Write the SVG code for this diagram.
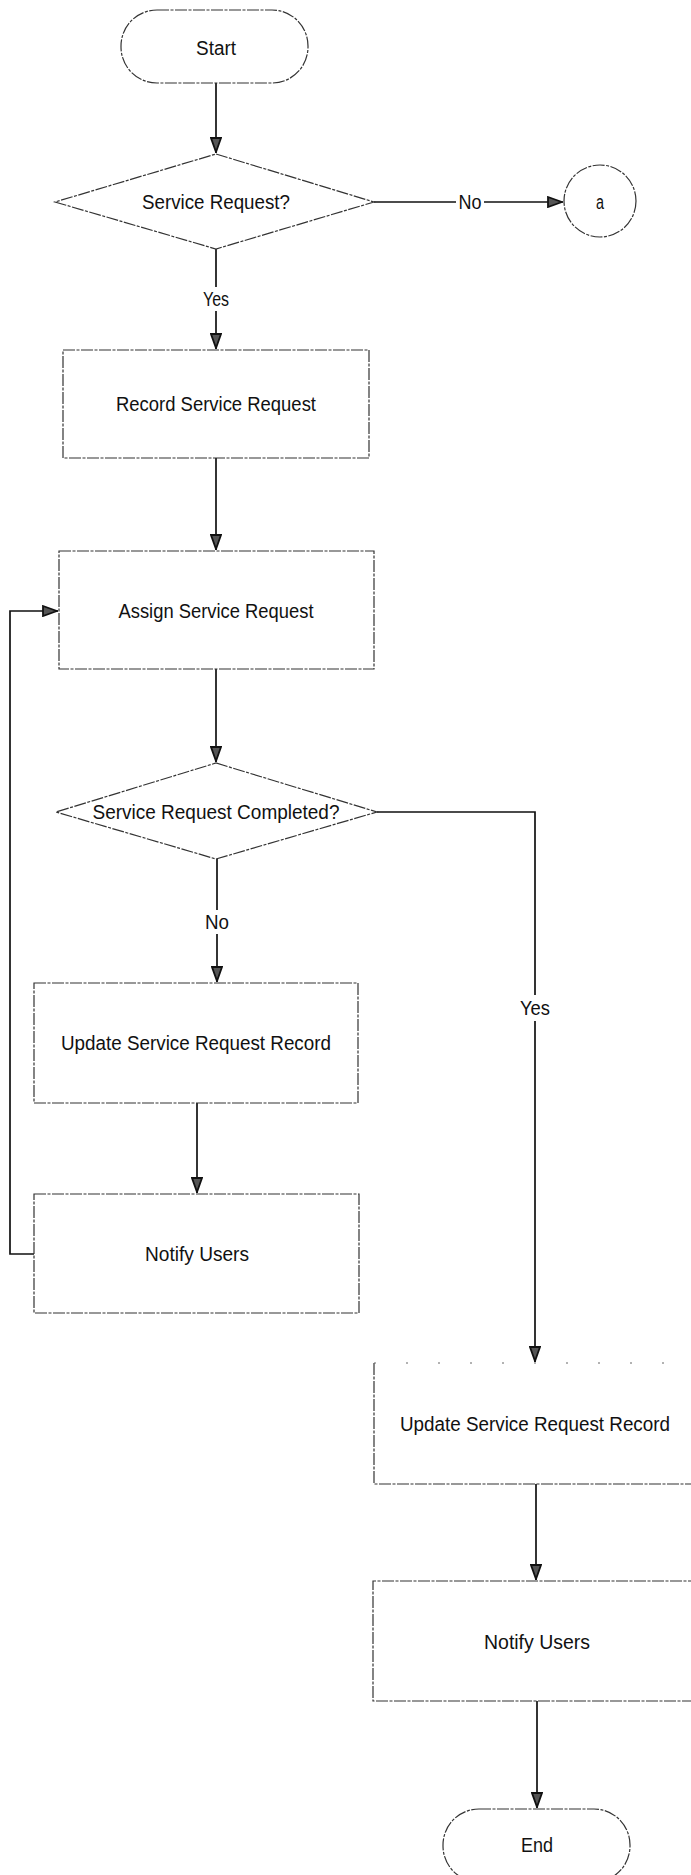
<svg xmlns="http://www.w3.org/2000/svg" width="691" height="1875" viewBox="0 0 691 1875">
<style>
.shape{fill:#fff;stroke:#333;stroke-width:1.2;stroke-dasharray:12 1.5 3 1.5}
.conn{fill:none;stroke:#111;stroke-width:1.7}
.t{font-family:"Liberation Sans",Arial,sans-serif;font-size:20px;fill:#111;text-anchor:middle;dominant-baseline:central}
.lbl{fill:#fff;stroke:none}
</style>
<defs>
<marker id="ah" viewBox="0 0 16 12" refX="16" refY="6" markerWidth="16" markerHeight="12" markerUnits="userSpaceOnUse" orient="auto">
<path d="M1,1 L15,6 L1,11 Z" fill="#555" stroke="#111" stroke-width="1.8" stroke-linejoin="miter"/>
</marker>
</defs>
<rect width="691" height="1875" fill="#fff"/>
<g id="connectors">
<path class="conn" d="M216,83 V153" marker-end="url(#ah)"/>
<path class="conn" d="M374,202 H563" marker-end="url(#ah)"/>
<path class="conn" d="M216,249 V349" marker-end="url(#ah)"/>
<path class="conn" d="M216,458 V550" marker-end="url(#ah)"/>
<path class="conn" d="M216,669 V762" marker-end="url(#ah)"/>
<path class="conn" d="M217,859 V982" marker-end="url(#ah)"/>
<path class="conn" d="M197,1103 V1193" marker-end="url(#ah)"/>
<path class="conn" d="M34,1254 H10 V611 H58" marker-end="url(#ah)"/>
<path class="conn" d="M377,812 H535 V1362" marker-end="url(#ah)"/>
<path class="conn" d="M536,1484 V1580" marker-end="url(#ah)"/>
<path class="conn" d="M537,1701 V1808" marker-end="url(#ah)"/>
<rect class="lbl" x="456" y="191" width="28" height="22"/>
<text class="t" x="470" y="202" textLength="23" lengthAdjust="spacingAndGlyphs">No</text>
<rect class="lbl" x="200" y="287" width="32" height="24"/>
<text class="t" x="216" y="299" textLength="26" lengthAdjust="spacingAndGlyphs">Yes</text>
<rect class="lbl" x="203" y="910" width="28" height="24"/>
<text class="t" x="217" y="922" textLength="24" lengthAdjust="spacingAndGlyphs">No</text>
<rect class="lbl" x="518" y="995" width="34" height="26"/>
<text class="t" x="535" y="1008" textLength="30" lengthAdjust="spacingAndGlyphs">Yes</text>
</g>
<g id="start">
<rect class="shape" x="121" y="10" width="187" height="73" rx="36" ry="36"/>
<text class="t" x="216" y="48" textLength="40" lengthAdjust="spacingAndGlyphs">Start</text>
</g>
<g id="decision1">
<polygon class="shape" points="216,154 374,202 216,249 55,202"/>
<text class="t" x="216" y="202" textLength="148" lengthAdjust="spacingAndGlyphs">Service Request?</text>
</g>
<g id="connector-a">
<circle class="shape" cx="600" cy="201" r="36"/>
<text class="t" x="600" y="202" textLength="8" lengthAdjust="spacingAndGlyphs">a</text>
</g>
<g id="record">
<rect class="shape" x="63" y="350" width="306" height="108"/>
<text class="t" x="216" y="404" textLength="200" lengthAdjust="spacingAndGlyphs">Record Service Request</text>
</g>
<g id="assign">
<rect class="shape" x="59" y="551" width="315" height="118"/>
<text class="t" x="216" y="611" textLength="195" lengthAdjust="spacingAndGlyphs">Assign Service Request</text>
</g>
<g id="decision2">
<polygon class="shape" points="216,763 377,812 216,859 56,812"/>
<text class="t" x="216" y="812" textLength="247" lengthAdjust="spacingAndGlyphs">Service Request Completed?</text>
</g>
<g id="update1">
<rect class="shape" x="34" y="983" width="324" height="120"/>
<text class="t" x="196" y="1043" textLength="270" lengthAdjust="spacingAndGlyphs">Update Service Request Record</text>
</g>
<g id="notify1">
<rect class="shape" x="34" y="1194" width="325" height="119"/>
<text class="t" x="197" y="1254" textLength="104" lengthAdjust="spacingAndGlyphs">Notify Users</text>
</g>
<g id="update2">
<path class="shape" d="M374,1363 V1484 H700"/>
<path d="M374,1363 H691" fill="none" stroke="#666" stroke-width="1" stroke-dasharray="2 30"/>
<text class="t" x="535" y="1424" textLength="270" lengthAdjust="spacingAndGlyphs">Update Service Request Record</text>
</g>
<g id="notify2">
<path class="shape" d="M700,1581 H373 V1701 H700"/>
<text class="t" x="537" y="1642" textLength="106" lengthAdjust="spacingAndGlyphs">Notify Users</text>
</g>
<g id="end">
<rect class="shape" x="443" y="1809" width="187" height="73" rx="36" ry="36"/>
<text class="t" x="537" y="1845" textLength="32" lengthAdjust="spacingAndGlyphs">End</text>
</g>
</svg>
